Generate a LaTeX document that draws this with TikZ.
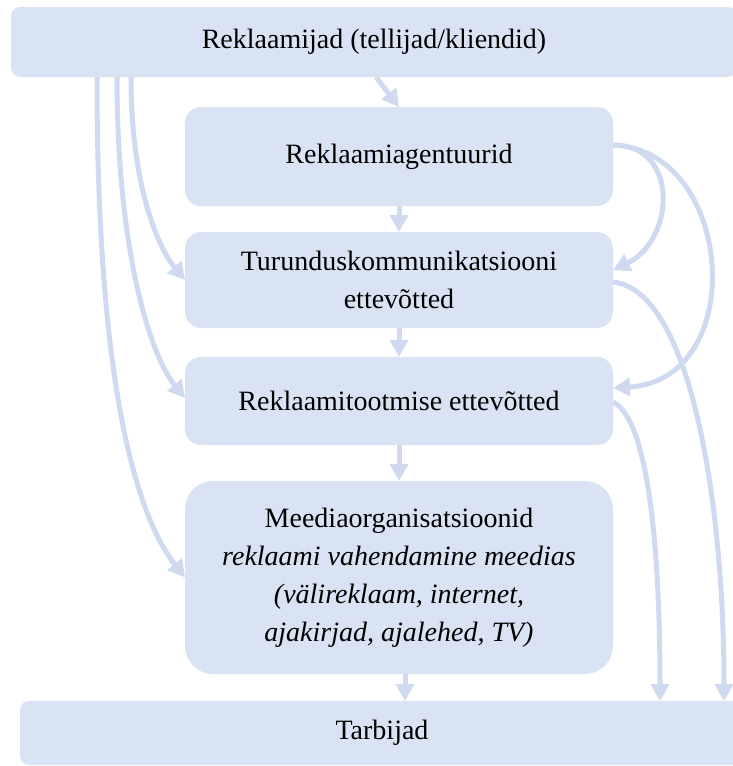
\documentclass[tikz,border=0pt]{standalone}
\usepackage{fontspec}
\setmainfont{Liberation Serif}
\usetikzlibrary{arrows.meta,calc}
\definecolor{boxfill}{HTML}{DAE3F3}
\definecolor{linkcol}{HTML}{CFDAF0}
\begin{document}
\begin{tikzpicture}[x=1pt,y=-1pt,
  box/.style={fill=boxfill, draw=none, inner sep=0pt, outer sep=0pt,
    align=center, font=\fontsize{28}{38}\selectfont},
  link/.style={draw=linkcol, line width=5pt,
    -{Triangle[length=17pt,width=18pt]}}]
\useasboundingbox (0,0) rectangle (732,766);

% boxes
\node[box, rounded corners=9pt, minimum width=726pt, minimum height=70pt]
  (adv) at (374,42) {Reklaamijad (tellijad/kliendid)};
\node[box, rounded corners=16pt, minimum width=428pt, minimum height=99pt]
  (agy) at (399,156.5) {Reklaamiagentuurid};
\node[box, rounded corners=16pt, minimum width=428pt, minimum height=96pt]
  (mkt) at (399,280) {Turunduskommunikatsiooni\\ettevõtted};
\node[box, rounded corners=16pt, minimum width=428pt, minimum height=88pt]
  (prod) at (399,401) {Reklaamitootmise ettevõtted};
\node[box, rounded corners=28pt, minimum width=428pt, minimum height=193pt]
  (media) at (399,577.5) {Meediaorganisatsioonid\\
    \textit{reklaami vahendamine meedias}\\
    \textit{(välireklaam, internet,}\\
    \textit{ajakirjad, ajalehed, TV)}};
\node[box, rounded corners=9pt, minimum width=724pt, minimum height=64pt]
  (cons) at (382,733) {Tarbijad};

% main chain
\draw[link] ([xshift=365pt]adv.south west) -- (agy.north);
\draw[link] (agy.south) -- (mkt.north);
\draw[link] (mkt.south) -- (prod.north);
\draw[link] (prod.south) -- (media.north);
\draw[link] ([xshift=6pt]media.south) -- ([xshift=6pt]media.south |- cons.north);

% advertisers directly to later stages
\draw[link] ([xshift=120pt]adv.south west) .. controls +(0,113) and +(-25,-30) .. (mkt.west);
\draw[link] ([xshift=106pt]adv.south west) .. controls +(0,173) and +(-35,-43) .. ([yshift=3pt]prod.west);
\draw[link] ([xshift=86pt]adv.south west) .. controls +(0,323) and +(-45,-57.5) .. (media.west);

% agencies to later stages
\draw[link] ([yshift=11.5pt]agy.east) .. controls +(67,0) and +(62,-30) .. ([yshift=10pt]mkt.east);
\draw[link] ([yshift=11.5pt]agy.east) .. controls +(122,5) and +(137,-8) .. ([yshift=13pt]prod.east);

% straight to consumers
\draw[link] ([yshift=-2pt]mkt.east) .. controls +(77,8) and +(0,-201) .. ([xshift=704pt]cons.north west);
\draw[link] ([yshift=-1pt]prod.east) .. controls +(37,18) and +(0,-141) .. ([xshift=640pt]cons.north west);
\end{tikzpicture}
\end{document}
